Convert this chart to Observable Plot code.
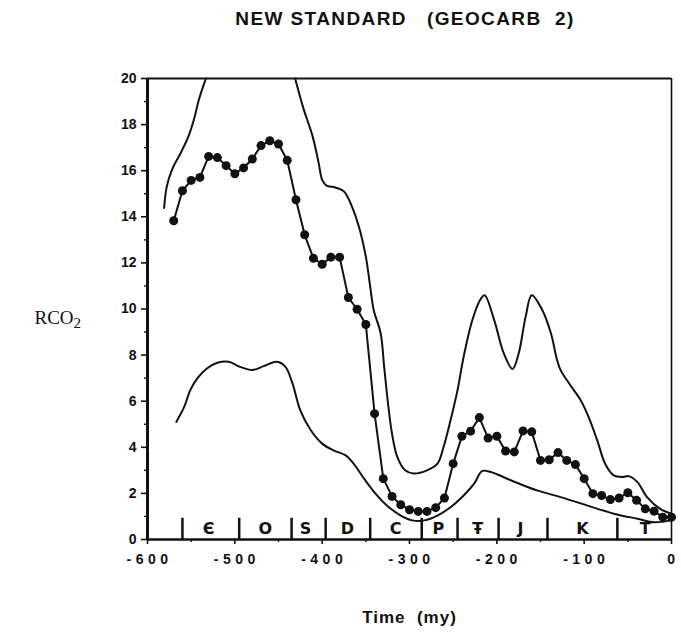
<!DOCTYPE html>
<html><head><meta charset="utf-8">
<script src="https://cdn.jsdelivr.net/npm/d3@7"></script>
<script src="https://cdn.jsdelivr.net/npm/@observablehq/plot@0.6"></script>
<style>
body{margin:0;background:#fff;font-family:"Liberation Sans",Arial,sans-serif;}
#title{height:40px;width:681px;position:relative;}
#title span{position:absolute;left:405px;top:8px;transform:translateX(-50%);font-weight:bold;font-size:19px;letter-spacing:1.4px;white-space:pre;color:#111;}
</style></head><body>
<div id="title"><span>NEW STANDARD   (GEOCARB  2)</span></div>
<div id="chart"></div>
<script>
// Time (millions of years; negative = past)
const ages = [-570,-560,-550,-540,-530,-520,-510,-500,-490,-480,-470,-460,-450,-440,-430,-420,-410,-400,-390,-380,-370,-360,-350,-340,-330,-320,-310,-300,-290,-280,-270,-260,-250,-240,-230,-220,-210,-200,-190,-180,-170,-160,-150,-140,-130,-120,-110,-100,-90,-80,-70,-60,-50,-40,-30,-20,-10,0];
// Best-estimate RCO2 (dotted curve)
const rco2Best = [13.83,15.13,15.58,15.71,16.62,16.57,16.22,15.87,16.12,16.51,17.09,17.30,17.16,16.45,14.74,13.22,12.20,11.94,12.25,12.25,10.50,9.99,9.33,5.46,2.64,1.87,1.51,1.29,1.22,1.22,1.38,1.80,3.29,4.48,4.70,5.29,4.40,4.48,3.84,3.80,4.71,4.67,3.43,3.46,3.77,3.43,3.25,2.64,1.99,1.91,1.73,1.80,2.03,1.70,1.33,1.23,0.97,0.97];
// Upper error envelope (two pieces, leaves the frame above 20)
const upperAgesA = [-581,-578,-572,-562,-553,-547,-541,-535,-533];
const upperA = [14.38,15.3,16.04,16.77,17.5,18.2,19.1,19.8,20];
const upperAgesB = [-431,-421,-411,-404,-400,-395,-385,-375,-366,-358,-350,-345,-341,-333,-329,-325,-320,-314,-305,-295,-280,-268,-261,-253,-245,-238,-228,-219,-214,-203,-192,-182,-175,-167,-160,-148,-138,-131,-127,-116,-104,-95,-85,-76,-66,-56,-49,-39,-28,-13,0];
const upperB = [20,18.65,17.5,16.33,15.6,15.35,15.27,15.1,14.45,13.58,12.27,10.97,9.96,8.94,7.49,6.04,4.59,3.58,3.0,2.86,3.0,3.29,4.01,5.17,6.48,7.93,9.52,10.4,10.6,9.52,8.07,7.4,8.07,9.67,10.6,9.96,8.94,7.78,7.35,6.7,6.04,5.32,4.3,3.29,2.78,2.71,2.75,2.49,1.84,1.33,1.12];
// Lower error envelope
const lowerAges = [-567,-558,-551,-543,-532,-520,-507,-494,-480,-467,-452,-442,-434,-425,-413,-400,-387,-373,-364,-352,-339,-326,-310,-297,-283,-268,-253,-238,-226,-217,-207,-184,-154,-127,-97,-66,-39,-20,0];
const lower = [5.1,5.75,6.48,6.99,7.42,7.67,7.71,7.49,7.35,7.52,7.71,7.49,6.77,5.6,4.74,4.16,3.87,3.65,3.29,2.64,1.99,1.48,1.04,0.83,0.83,1.04,1.4,1.91,2.42,2.97,2.93,2.57,2.13,1.84,1.48,1.12,0.9,0.75,0.83];
// Geologic periods
const periodBounds = [-560,-495,-435,-396,-345,-286,-245,-198,-142,-62];
const periodSymbols = ["Є","O","S","D","C","P","Ŧ","J","K","T"];
const periodMid = [-530,-465,-419,-371,-316,-267,-222,-173,-102,-30];
// Axis ticks
const yTicks = [0,2,4,6,8,10,12,14,16,18,20];
const yMinor = [1,3,5,7,9,11,13,15,17,19];
const xTicks = [-600,-500,-400,-300,-200,-100,0];
const xMinor = [-550,-450,-350,-250,-150,-50];

const best = ages.map((a,i)=>({x:a,y:rco2Best[i]}));
const upper = [
  ...upperAgesA.map((a,i)=>({x:a,y:upperA[i],s:"A"})),
  ...upperAgesB.map((a,i)=>({x:a,y:upperB[i],s:"B"}))
];
const low = lowerAges.map((a,i)=>({x:a,y:lower[i]}));
const periods = periodSymbols.map((p,i)=>({x:periodMid[i],t:p}));

const font = "'Liberation Sans', Arial, sans-serif";
const plot = Plot.plot({
  width: 681,
  height: 594,
  marginLeft: 147,
  marginRight: 10,
  marginTop: 38,
  marginBottom: 95,
  style: {fontFamily: font, color: "#111", background: "#fff"},
  x: {domain: [-600, 0]},
  y: {domain: [0, 20]},
  marks: [
    Plot.axisY({ticks: yTicks, tickSize: 6, tickPadding: 5, tickFormat: d => String(d), fontSize: 14, fontWeight: "bold", label: null, strokeWidth: 1.6}),
    Plot.axisY({ticks: yMinor, tickSize: 3, text: null, label: null, strokeWidth: 1.4}),
    Plot.axisX({ticks: xTicks, tickSize: 5, tickPadding: 10, tickFormat: d => String(d), fontSize: 14, fontWeight: "bold", label: null, strokeWidth: 1.6}),
    Plot.axisX({ticks: xMinor, tickSize: 3, text: null, label: null, strokeWidth: 1.4}),
    Plot.ruleY([20], {strokeWidth: 2}),
    Plot.ruleX([0], {strokeWidth: 1.6}),
    Plot.ruleX([-600], {strokeWidth: 3}),
    Plot.ruleY([0], {strokeWidth: 2.5}),
    Plot.ruleX(periodBounds, {x: d => d, y1: 0, y2: 0.92, strokeWidth: 2.5}),
    Plot.text(periods, {x: "x", y: () => 0.45, text: "t", fontSize: 16, fontWeight: "bold", fontFamily: "'DejaVu Sans', sans-serif"}),
    Plot.line(upper, {x: "x", y: "y", z: "s", curve: "catmull-rom", strokeWidth: 2, stroke: "#111"}),
    Plot.line(low, {x: "x", y: "y", curve: "catmull-rom", strokeWidth: 2, stroke: "#111"}),
    Plot.line(best, {x: "x", y: "y", strokeWidth: 2, stroke: "#111"}),
    Plot.dot(best, {x: "x", y: "y", r: 4.5, fill: "#111"}),
    Plot.text(["RCO"], {frameAnchor: "left", y: () => 9.6, dx: -113, textAnchor: "start", fontSize: 19, fontFamily: "'Liberation Serif', 'Times New Roman', serif"}),
    Plot.text(["Time  (my)"], {frameAnchor: "bottom", dy: 71, lineAnchor: "top", fontSize: 17, fontWeight: "bold"})
  ]
});
d3.select(plot).selectAll("g[aria-label='x-axis tick label'] text").attr("letter-spacing", "4.5px").attr("dx", "2px");
d3.select(plot).selectAll("text").filter(function(){return this.textContent === "Time  (my)";}).style("white-space","pre").attr("letter-spacing","1px");
d3.select(plot).selectAll("text").filter(function(){return this.textContent === "RCO";})
  .append("tspan").attr("font-size", 15).attr("dy", "0.25em").text("2");
document.getElementById("chart").appendChild(plot);
</script>
</body></html>
